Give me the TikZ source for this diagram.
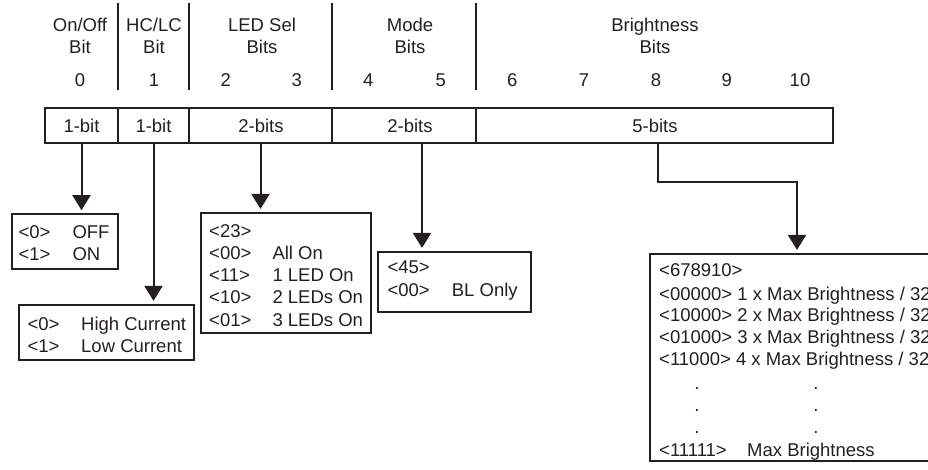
\documentclass[tikz,border=0pt]{standalone}
\usepackage{fontspec}
\setmainfont{Liberation Sans}
\usetikzlibrary{arrows.meta}
\definecolor{ink}{RGB}{35,31,32}
\begin{document}
\begin{tikzpicture}[x=1pt,y=-1pt,
 txt/.style={inner sep=0pt, font=\fontsize{18.5}{22}\selectfont, text=ink, anchor=base west},
 ctxt/.style={txt, anchor=base},
 cell/.style={draw=ink, line width=2.2pt, minimum height=35pt, inner sep=0pt},
 box/.style={draw=ink, line width=2.2pt, inner sep=0pt},
 sep/.style={draw=ink, line width=2.4pt},
 arr/.style={draw=ink, line width=2pt, -{Triangle[width=18pt,length=15pt]}, shorten >=3pt}]
\useasboundingbox (0,0) rectangle (928,469);
\clip (0,0) rectangle (928,469);

% header separators
\draw[sep] (118,3) -- (118,90);
\draw[sep] (189,3) -- (189,90);
\draw[sep] (332,3) -- (332,90);
\draw[sep] (476,3) -- (476,90);

% header labels
\node[ctxt] (h0a) at (80,31.7) {On/Off};
\node[ctxt] (h0b) at (80,53.5) {Bit};
\node[ctxt] (h1a) at (154,31.7) {HC/LC};
\node[ctxt] (h1b) at (154,53.5) {Bit};
\node[ctxt] (h2a) at (262,31.7) {LED Sel};
\node[ctxt] (h2b) at (262,53.5) {Bits};
\node[ctxt] (h3a) at (410,31.7) {Mode};
\node[ctxt] (h3b) at (410,53.5) {Bits};
\node[ctxt] (h4a) at (655,31.7) {Brightness};
\node[ctxt] (h4b) at (655,53.5) {Bits};

% bit numbers
\node[ctxt] (b0) at (80,86) {0};
\node[ctxt] (b1) at (154,86) {1};
\node[ctxt] (b2) at (225.7,86) {2};
\node[ctxt] (b3) at (296.7,86) {3};
\node[ctxt] (b4) at (368.3,86) {4};
\node[ctxt] (b5) at (440.7,86) {5};
\node[ctxt] (b6) at (512.3,86) {6};
\node[ctxt] (b7) at (584,86) {7};
\node[ctxt] (b8) at (656,86) {8};
\node[ctxt] (b9) at (726.7,86) {9};
\node[ctxt] (b10) at (800,86) {10};

% register cells
\node[cell, minimum width=73pt] (c0) at (81.5,125.5) {};
\node[cell, minimum width=71pt] (c1) at (153.5,125.5) {};
\node[cell, minimum width=143pt] (c2) at (260.5,125.5) {};
\node[cell, minimum width=144pt] (c3) at (404,125.5) {};
\node[cell, minimum width=357pt] (c4) at (654.5,125.5) {};
\node[ctxt] (l0) at (81.5,132) {1-bit};
\node[ctxt] (l1) at (153.5,132) {1-bit};
\node[ctxt] (l2) at (261,132) {2-bits};
\node[ctxt] (l3) at (410,132) {2-bits};
\node[ctxt] (l4) at (655,132) {5-bits};

% value boxes
\node[box, minimum width=106.6pt, minimum height=55pt] (offbox) at (65,241.8) {};
\node[box, minimum width=175.3pt, minimum height=55pt] (hcbox) at (106.7,332.5) {};
\node[box, minimum width=170pt, minimum height=120pt] (ledbox) at (286,273) {};
\node[box, minimum width=153pt, minimum height=60pt] (modebox) at (454.5,282) {};
\node[box, minimum width=294pt, minimum height=207pt] (brbox) at (797,357.5) {};

% connectors
\draw[arr] (c0.south) -- (c0.south |- offbox.north);
\draw[arr] (c1.south) -- (c1.south |- hcbox.north);
\draw[arr] (c2.south) -- (c2.south |- ledbox.north);
\draw[arr] ([xshift=18pt]c3.south) -- ([xshift=18pt]c3.south |- modebox.north);
\draw[arr] ([xshift=3.5pt]c4.south) -- ++(0,38) -| (brbox.north);

% OFF/ON box
\node[txt] (o0) at (18.3,238.3) {<0>};
\node[txt] (o0t) at (72.3,238.3) {OFF};
\node[txt] (o1) at (18.3,260.3) {<1>};
\node[txt] (o1t) at (72.3,260.3) {ON};

% current box
\node[txt] (hc0) at (27.3,330) {<0>};
\node[txt] (hc0t) at (81,330) {High Current};
\node[txt] (hc1) at (27.3,352) {<1>};
\node[txt] (hc1t) at (81,352) {Low Current};

% LED box
\node[txt] (ld) at (209,237) {<23>};
\node[txt] (ld0) at (209,259.5) {<00>};
\node[txt] (ld0t) at (272.3,259.5) {All On};
\node[txt] (ld1) at (209,281.7) {<11>};
\node[txt] (ld1t) at (272.3,281.7) {1 LED On};
\node[txt] (ld2) at (209,303.7) {<10>};
\node[txt] (ld2t) at (272.3,303.7) {2 LEDs On};
\node[txt] (ld3) at (209,326) {<01>};
\node[txt] (ld3t) at (272.3,326) {3 LEDs On};

% mode box
\node[txt] (md) at (387.3,273) {<45>};
\node[txt] (md0) at (387.3,296.7) {<00>};
\node[txt] (md0t) at (451.7,296.7) {BL Only};

% brightness box
\node[txt] (br) at (659,276.7) {<678910>};
\node[txt] (br1) at (659,300) {<00000> 1 x Max Brightness / 32};
\node[txt] (br2) at (659,321.7) {<10000> 2 x Max Brightness / 32};
\node[txt] (br3) at (659,343.3) {<01000> 3 x Max Brightness / 32};
\node[txt] (br4) at (659,365) {<11000> 4 x Max Brightness / 32};
\node[ctxt] (d1a) at (697,389) {.};
\node[ctxt] (d1b) at (816,389) {.};
\node[ctxt] (d2a) at (697,411) {.};
\node[ctxt] (d2b) at (816,411) {.};
\node[ctxt] (d3a) at (697,433) {.};
\node[ctxt] (d3b) at (816,433) {.};
\node[txt] (brl) at (659,456.7) {<11111>};
\node[txt] (brlt) at (747,456.7) {Max Brightness};
\end{tikzpicture}
\end{document}
